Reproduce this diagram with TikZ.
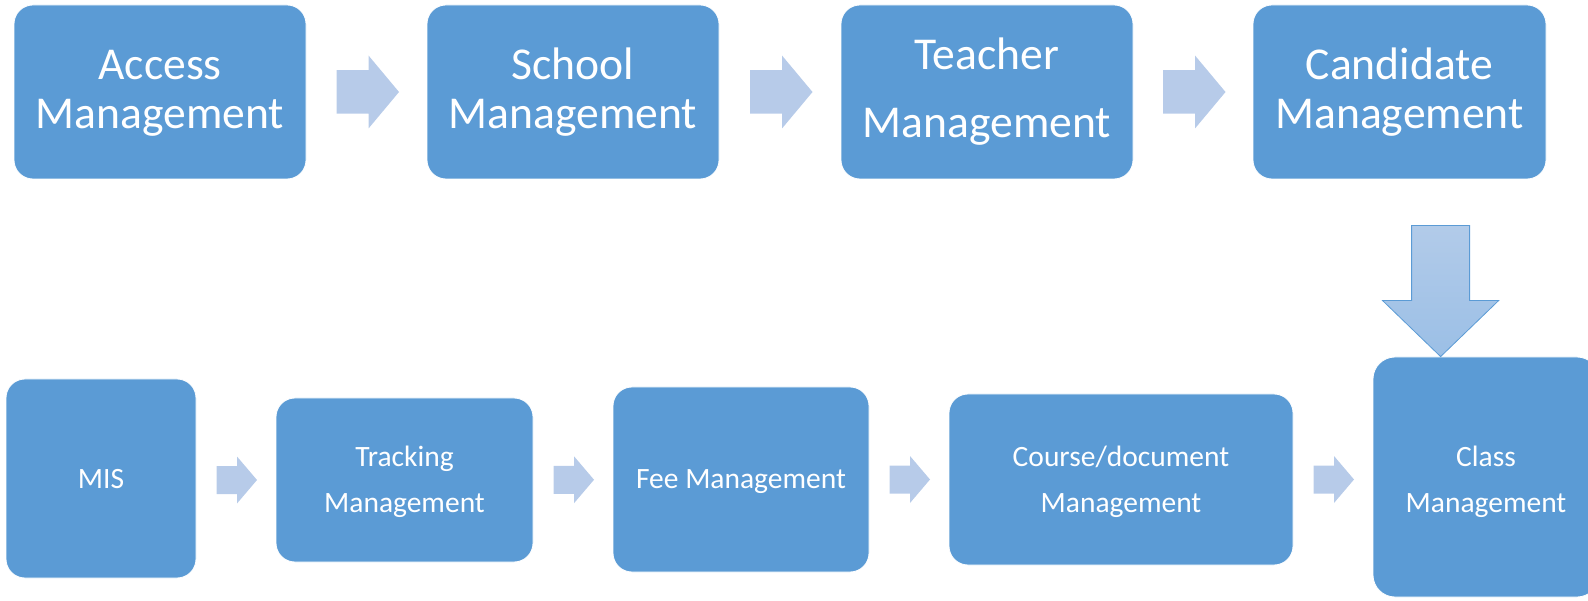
\documentclass[tikz,border=0pt]{standalone}
\usepackage{fontspec}
\setmainfont{Carlito}
\usetikzlibrary{calc}
\definecolor{boxblue}{RGB}{91,155,213}
\definecolor{arrowblue}{RGB}{183,203,233}
\definecolor{darrtop}{RGB}{178,203,233}
\definecolor{darrbot}{RGB}{155,191,230}
\tikzset{
  box/.style={draw=white, line width=0.8pt, fill=boxblue, rounded corners=19pt, inner sep=0pt},
  toptxt/.style={text=white, font=\fontsize{45.6}{54}\selectfont, anchor=base, inner sep=0pt},
  bottxt/.style={text=white, font=\fontsize{29.5}{35}\selectfont, anchor=base, inner sep=0pt},
  flowarrow/.style={fill=arrowblue},
  downarrow/.style={top color=darrtop, bottom color=darrbot, draw=boxblue, line width=0.8pt},
}
\newcommand{\myarrowtop}[1]{%
  \fill[flowarrow] ($(#1)+(-30,-21.75)$) -- ($(#1)+(2,-21.75)$) -- ($(#1)+(2,-36.5)$) -- ($(#1)+(32.5,0)$) -- ($(#1)+(2,36.5)$) -- ($(#1)+(2,21.75)$) -- ($(#1)+(-30,21.75)$) -- cycle;}
\newcommand{\myarrowbot}[1]{%
  \fill[flowarrow] ($(#1)+(-19.5,-14)$) -- ($(#1)+(1,-14)$) -- ($(#1)+(1,-23.5)$) -- ($(#1)+(21,0)$) -- ($(#1)+(1,23.5)$) -- ($(#1)+(1,14)$) -- ($(#1)+(-19.5,14)$) -- cycle;}
\begin{document}
\begin{tikzpicture}[x=1pt,y=-1pt]
\useasboundingbox (0,0) rectangle (1588,601);
% top row
\node[box, minimum width=292pt, minimum height=174pt] (acc) at (160,92) {};
\node[box, minimum width=292pt, minimum height=174pt] (sch) at (573,92) {};
\node[box, minimum width=292pt, minimum height=174pt] (tea) at (987,92) {};
\node[box, minimum width=293pt, minimum height=174pt] (can) at (1399.5,92) {};
% bottom row
\node[box, minimum width=190pt, minimum height=199pt] (mis) at (101,478.5) {};
\node[box, minimum width=257pt, minimum height=164pt] (trk) at (404.5,480) {};
\node[box, minimum width=256pt, minimum height=185pt] (fee) at (741,479.5) {};
\node[box, minimum width=344pt, minimum height=171pt] (crs) at (1121,479.5) {};
\node[box, minimum width=226pt, minimum height=240pt, rounded corners=22pt] (cls) at (1486,477) {};
% texts
\node[toptxt] (acc1) at (160,80) {Access};
\node[toptxt] (acc2) at (160,129) {Management};
\node[toptxt] (sch1) at (573,80) {School};
\node[toptxt] (sch2) at (573,129) {Management};
\node[toptxt] (tea1) at (987,70) {Teacher};
\node[toptxt] (tea2) at (987,138) {Management};
\node[toptxt] (can1) at (1399.5,80) {Candidate};
\node[toptxt] (can2) at (1399.5,129) {Management};
\node[bottxt] (mis1) at (101,488) {MIS};
\node[bottxt] (trk1) at (404.5,467) {Tracking};
\node[bottxt] (trk2) at (404.5,512) {Management};
\node[bottxt] (fee1) at (741,488) {Fee Management};
\node[bottxt] (crs1) at (1121,467) {Course/document};
\node[bottxt] (crs2) at (1121,512) {Management};
\node[bottxt] (cls1) at (1486,467) {Class};
\node[bottxt] (cls2) at (1486,512) {Management};
% arrows top
\coordinate (m1) at ($(acc.east)!0.5!(sch.west)$);
\coordinate (m2) at ($(sch.east)!0.5!(tea.west)$);
\coordinate (m3) at ($(tea.east)!0.5!(can.west)$);
\myarrowtop{m1}
\myarrowtop{m2}
\myarrowtop{m3}
% arrows bottom
\coordinate (b1) at ($(mis.east |- trk.west)!0.5!(trk.west)$);
\coordinate (b2) at ($(trk.east)!0.5!(fee.west)$);
\coordinate (b3) at ($(fee.east)!0.5!(crs.west)$);
\coordinate (b4) at ($(crs.east)!0.5!(cls.west |- crs.east)$);
\myarrowbot{b1}
\myarrowbot{b2}
\myarrowbot{b3}
\myarrowbot{b4}
% down arrow from Candidate to Class
\coordinate (dtip) at ($(cls.north west)+(68,0)$);
\shade[downarrow] (dtip) -- ($(dtip)+(58,-56)$) -- ($(dtip)+(29,-56)$) -- ($(dtip)+(29,-131)$) -- ($(dtip)+(-29,-131)$) -- ($(dtip)+(-29,-56)$) -- ($(dtip)+(-58,-56)$) -- cycle;
\end{tikzpicture}
\end{document}
